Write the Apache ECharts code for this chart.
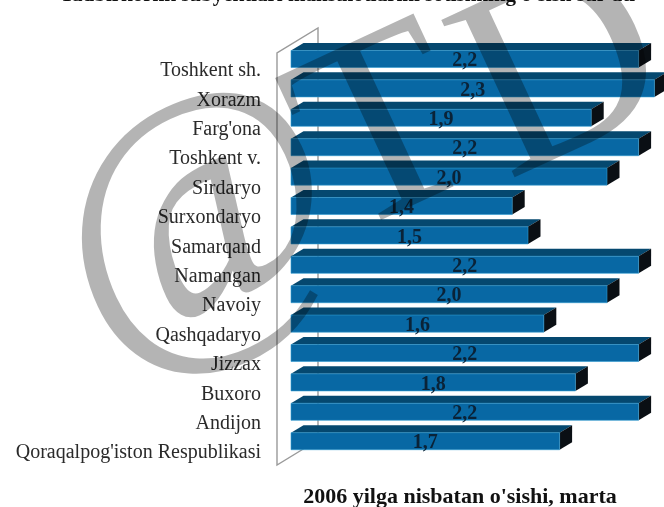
<!DOCTYPE html>
<html lang="en">
<head>
    <meta charset="UTF-8">
    <title>2006 yilga nisbatan o'sishi</title>
    <script src="https://cdn.jsdelivr.net/npm/echarts@6/dist/echarts.min.js"></script>
    <style>
        body, html { margin: 0; padding: 0; width: 100%; height: 100%; overflow: hidden; background: #fff; }
        #container { width: 664px; height: 507px; filter: blur(0.5px); }
    </style>
</head>
<body>
    <div id="container"></div>
    <script>
        var regions = ['Toshkent sh.', 'Xorazm', "Farg'ona", 'Toshkent v.', 'Sirdaryo', 'Surxondaryo', 'Samarqand',
            'Namangan', 'Navoiy', 'Qashqadaryo', 'Jizzax', 'Buxoro', 'Andijon', "Qoraqalpog'iston Respublikasi"];
        var growth = [2.2, 2.3, 1.9, 2.2, 2.0, 1.4, 1.5, 2.2, 2.0, 1.6, 2.2, 1.8, 2.2, 1.7];
        var chartTitle = "Tadbirkorlik subyektlari mahsulotlarini sotishning o'sish sur'ati";
        var axisTitle = "2006 yilga nisbatan o'sishi, marta";

        var serif = '"Liberation Serif", serif';

        // 3D look: front face, top face and dark right side
        function renderBar(params, api) {
            var end = api.coord([api.value(0), api.value(1)]);
            var start = api.coord([0, api.value(1)]);
            var band = api.size([0, 1])[1];
            var h = band * 0.58, dx = 12.5, dy = 7.5;
            var y0 = end[1] - h / 2, y1 = end[1] + h / 2;
            return {
                type: 'group',
                children: [
                    { type: 'polygon', shape: { points: [[start[0], y0], [start[0] + dx, y0 - dy], [end[0] + dx, y0 - dy], [end[0], y0]] },
                      style: { fill: '#05486f' } },
                    { type: 'polygon', shape: { points: [[end[0], y0], [end[0] + dx, y0 - dy], [end[0] + dx, y1 - dy], [end[0], y1]] },
                      style: { fill: '#0a0f14' } },
                    { type: 'rect', shape: { x: start[0], y: y0, width: end[0] - start[0], height: h },
                      style: { fill: '#0868a4', stroke: '#2f9bd0', lineWidth: 0.6 } },
                    { type: 'text', x: (start[0] + end[0]) / 2, y: end[1] + 2,
                      style: { text: api.value(0).toFixed(1).replace('.', ','), fill: '#0a2338', align: 'center', verticalAlign: 'middle',
                               font: 'bold 20px ' + serif } }
                ]
            };
        }

        // watermark letters, black at low alpha so it darkens what is under it
        function mark(ch, x, y, size) {
            return { type: 'text', x: x, y: y, rotation: 25 * Math.PI / 180, z: 20,
                style: { text: ch, fill: 'rgba(0,0,0,0.295)', align: 'center', verticalAlign: 'middle', font: size + 'px ' + serif } };
        }

        var option = {
            backgroundColor: '#fff',
            animation: false,
            grid: { left: 291, top: 44.3, width: 363.4, height: 411.6 },
            xAxis: { type: 'value', min: 0, max: 2.3, show: false },
            yAxis: {
                type: 'category',
                inverse: true,
                data: regions,
                axisLine: { show: false },
                axisTick: { show: false },
                axisLabel: { margin: 30, color: '#2a2a2a', fontFamily: serif, fontSize: 20, verticalAlign: 'top', lineHeight: 24 }
            },
            graphic: [
                { type: 'polyline', z: 0, shape: { points: [[318, 440], [318, 28], [277, 53], [277, 465], [318, 440]] },
                  style: { fill: 'none', stroke: '#9a9a9a', lineWidth: 1.4 } },
                { type: 'text', left: 60, top: -15, z: 5,
                  style: { text: chartTitle, fill: '#111', font: 'bold 21px ' + serif } },
                { type: 'text', x: 460, y: 497, z: 5,
                  style: { text: axisTitle, fill: '#111', align: 'center', verticalAlign: 'middle', font: 'bold 22px ' + serif } },
                mark('@', 201, 229, 310),
                mark('T', 388, 140, 265),
                mark('D', 565, 77, 265)
            ],
            series: [{
                type: 'custom',
                coordinateSystem: 'cartesian2d',
                renderItem: renderBar,
                encode: { x: 0, y: 1 },
                data: growth.map(function (v, i) { return [v, i]; })
            }]
        };

        var chart = echarts.init(document.getElementById('container'), null, { renderer: 'canvas' });
        chart.setOption(option);
    </script>
</body>
</html>
